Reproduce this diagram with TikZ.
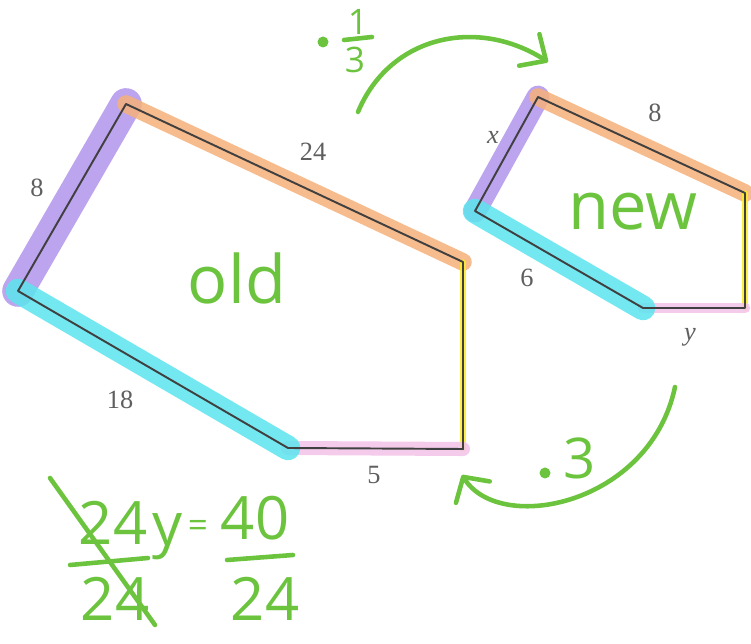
\documentclass[tikz,border=0pt]{standalone}
\usepackage{fontspec}
\setmainfont{Liberation Serif}
\setsansfont{Open Sans}
\usepackage{tikz}
\usetikzlibrary{arrows.meta}
\definecolor{inkgreen}{RGB}{108,196,62}
\definecolor{hipurple}{RGB}{176,148,236}
\definecolor{hiorange}{RGB}{246,176,122}
\definecolor{hicyan}{RGB}{92,228,238}
\definecolor{hipink}{RGB}{242,194,232}
\definecolor{hiyellow}{RGB}{250,236,40}
\definecolor{printgray}{RGB}{95,95,95}
\tikzset{
  outline/.style={draw=black!75,line width=1.1pt,line join=round},
  hl/.style={line cap=round,opacity=0.85},
  hlpurple/.style={hl,draw=hipurple,line width=18pt},
  hlorange/.style={hl,draw=hiorange,line width=10pt},
  hlcyan/.style={hl,draw=hicyan,line width=14pt},
  hlpink/.style={hl,draw=hipink,line width=8pt},
  hlyellow/.style={hl,draw=hiyellow,line width=3pt},
  sidelbl/.style={text=printgray,font=\fontsize{15}{15}\selectfont,inner sep=0pt},
  hand/.style={text=inkgreen,font=\sffamily\fontsize{38}{38}\selectfont,inner sep=0pt},
  eqhand/.style={text=inkgreen,font=\sffamily\fontsize{34}{34}\selectfont,inner sep=0pt},
  smallhand/.style={text=inkgreen,font=\sffamily\fontsize{20}{20}\selectfont,inner sep=0pt},
  ink/.style={draw=inkgreen,line width=2.6pt,line cap=round},
  inkarrow/.style={ink,-{Straight Barb[length=4mm,width=7.5mm,round]}},
  inkdot/.style={circle,fill=inkgreen,inner sep=0pt,minimum size=2.2mm}
}
\begin{document}
\begin{tikzpicture}[x=0.02cm,y=-0.02cm]
  \useasboundingbox (0,0) rectangle (751,644);
  \coordinate (oTop) at (126,104);
  \coordinate (oRight) at (463,262);
  \coordinate (oCorner) at (463,449);
  \coordinate (oBottom) at (288,448);
  \coordinate (oLeft) at (18,291);
  \draw[hlpurple,xshift=0.2cm] (oLeft) -- (oTop);
  \draw[hlorange,yshift=-0.06cm] (oTop) -- (oRight);
  \draw[hlyellow,xshift=-0.04cm] (oRight) -- (oCorner);
  \draw[hlpink,yshift=0.06cm] (oCorner) -- (oBottom);
  \draw[hlcyan,yshift=-0.12cm] (oBottom) -- (oLeft);
  \draw[outline] (oTop) -- (oRight) -- (oCorner) -- (oBottom) -- (oLeft) -- cycle;
  \coordinate (nTop) at (538,97);
  \coordinate (nRight) at (745,193);
  \coordinate (nCorner) at (745,308);
  \coordinate (nBottom) at (643,308);
  \coordinate (nLeft) at (475,211);
  \draw[hlpurple,line width=13pt,xshift=0.14cm] (nLeft) -- (nTop);
  \draw[hlorange] (nTop) -- (nRight);
  \draw[hlyellow,xshift=-0.04cm] (nRight) -- (nCorner);
  \draw[hlpink,line width=6pt,yshift=-0.04cm] (nCorner) -- (nBottom);
  \draw[hlcyan,yshift=-0.14cm] (nBottom) -- (nLeft);
  \draw[outline] (nTop) -- (nRight) -- (nCorner) -- (nBottom) -- (nLeft) -- cycle;
  \node[sidelbl] (oldLeft) at (37,188) {8};
  \node[sidelbl] (oldTop) at (313,152) {24};
  \node[sidelbl] (oldLower) at (120,400) {18};
  \node[sidelbl] (oldBottom) at (374,475) {5};
  \node[sidelbl] (newLeft) at (493,137) {\textit{x}};
  \node[sidelbl] (newTop) at (655,113) {8};
  \node[sidelbl] (newLower) at (527,278) {6};
  \node[sidelbl] (newBottom) at (690,337) {\textit{y}};
  \node[hand] (oldName) at (237,278) {old};
  \node[hand] (newName) at (633,212) {new};
  \node[inkdot] (dotThird) at (323,42) {};
  \node[smallhand] (thirdNum) at (358,22) {1};
  \node[smallhand] (thirdDen) at (355,60) {3};
  \draw[ink] (344,40) -- (372,37);
  \coordinate (thirdFrom) at (358,112);
  \coordinate (thirdTo) at (548,62);
  \draw[inkarrow] (thirdFrom) .. controls (390,35) and (478,17) .. (thirdTo);
  \node[inkdot] (dotThree) at (545,473) {};
  \node[hand,font=\sffamily\fontsize{32}{32}\selectfont] (threeNum) at (580,458) {3};
  \coordinate (threeFrom) at (675,387);
  \coordinate (threeTo) at (462,475);
  \draw[inkarrow,-{Straight Barb[length=3.6mm,width=8mm,round]}] (threeFrom) .. controls (650,505) and (500,535) .. (threeTo);
  \node[eqhand] (leftNum) at (113,523) {24};
  \node[eqhand] (leftDen) at (115,599) {24};
  \draw[ink] (70,565) -- (148,558);
  \node[eqhand,anchor=base] (yVar) at (168,546) {y};
  \node[smallhand] (eqSign) at (198,529) {=};
  \node[eqhand] (rightNum) at (255,518) {40};
  \node[eqhand] (rightDen) at (265,599) {24};
  \draw[ink] (227,560) -- (293,555);
  \draw[ink] (50,478) -- (155,625);
\end{tikzpicture}
\end{document}
